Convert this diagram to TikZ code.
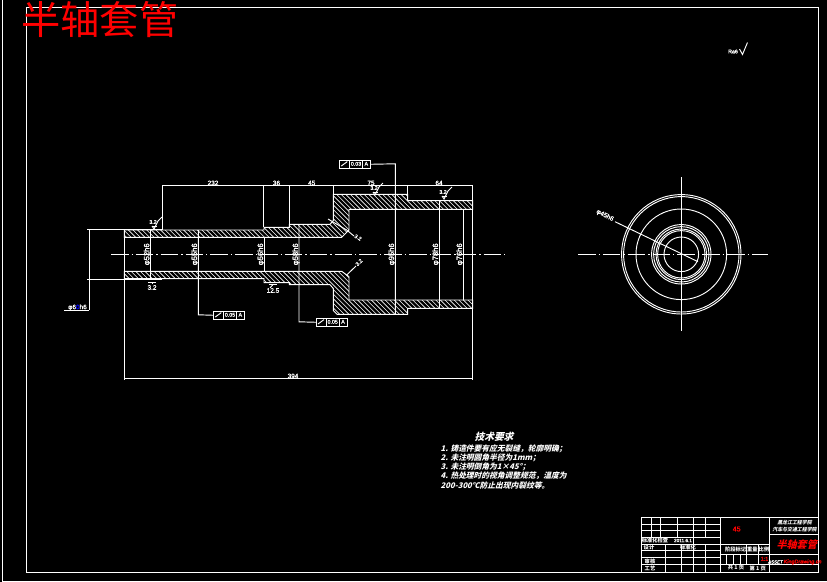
\documentclass[tikz,border=0pt]{standalone}
\usepackage{fontspec}
\usepackage{amsmath}
\newfontfamily\cjk{Noto Sans CJK SC}
\newfontfamily\cjkslant[FakeSlant=0.25]{Noto Sans CJK SC}
\newfontfamily\dimfont[FakeBold=1.5]{Liberation Sans}
\begin{document}
\begin{tikzpicture}[x=0.03cm,y=-0.03cm,>=latex,
  line/.style={white,line width=0.8pt},
  hatchline/.style={white,line width=0.5pt},
  axisline/.style={white,line width=0.8pt,dash pattern=on 15pt off 2.5pt on 1.2pt off 2.5pt},
  dimtext/.style={white,inner sep=0pt,font=\dimfont\fontsize{5.5}{5.5}\selectfont},
  diamtext/.style={white,inner sep=0pt,rotate=90,font=\dimfont\fontsize{6.5}{6.5}\selectfont},
  smalltext/.style={white,inner sep=0pt,font=\dimfont\fontsize{4.5}{4.5}\selectfont},
  cjktext/.style={white,inner sep=0pt,font=\cjk\bfseries\fontsize{4.5}{4.5}\selectfont},
  schooltext/.style={white,inner sep=0pt,font=\cjkslant\bfseries\fontsize{4.2}{4.2}\selectfont},
  reqtext/.style={white,inner sep=0pt,anchor=west,font=\cjkslant\bfseries\fontsize{6.6}{6.6}\selectfont},
  ]

  \def\tolbox#1#2#3#4#5{
    \node[draw=white,line width=0.8pt,minimum width=30.5*0.03cm,minimum height=7.6*0.03cm,inner sep=0pt,anchor=north west] (#1) at (#2,#3) {};
    \draw[line] (#2+10,#3) -- (#2+10,#3+7.6);
    \draw[line] (#2+23.5,#3) -- (#2+23.5,#3+7.6);
    \draw[line] (#2+2,#3+6) -- (#2+8,#3+1.6);
    \node[smalltext] (#1v) at (#2+16.7,#3+3.8) {#4};
    \node[smalltext] (#1a) at (#2+27,#3+3.8) {#5};
  }
  \def\roughmark#1#2#3#4{
    \begin{scope}[shift={(#2,#3)}]
      \draw[line] (-3,2) -- (-1,5) -- (3,-3) -- (7,-7);
      \draw[line] (-3,2) -- (1.5,2);
      \node[smalltext] (#1) at (-2,-2) {#4};
    \end{scope}
  }

  \fill[black] (0,0) rectangle (827,582);
  \useasboundingbox (0,0) rectangle (827,582);

  % frames
  \draw[line] (2,0) -- (2,581) -- (827,581);
  \draw[line] (26,7) rectangle (818.5,572);

  % section hatch
  \def\uppersec{(124.3,230) -- (264,230) -- (264,227.3) -- (289.3,227.3) -- (289.3,224.3) -- (330,224.3)
    -- (333.3,220.5) -- (333.3,194.3) -- (407.7,194.3) -- (407.7,200.7) -- (472.7,200.7) -- (472.7,209.3)
    -- (349,209.3) -- (349,230) -- (341.7,237.3) -- (124.3,237.3) -- cycle}
  \def\lowersec{(124.3,278.7) -- (264,278.7) -- (264,282.7) -- (289.3,282.7) -- (289.3,284.7) -- (330,284.7)
    -- (333.3,288.5) -- (333.3,310.5) -- (337,314.3) -- (407.7,314.3) -- (407.7,308.3) -- (472.7,308.3) -- (472.7,300)
    -- (349,300) -- (349,276.7) -- (341.7,271.3) -- (124.3,271.3) -- cycle}
  \begin{scope}
    \clip \uppersec;
    \foreach \x in {0,1,...,85}
    {
      \draw[hatchline] (120+\x*4.6,240) -- +(-50,-50);
    }
  \end{scope}
  \begin{scope}
    \clip \lowersec;
    \foreach \x in {0,1,...,85}
    {
      \draw[hatchline] (120+\x*4.6,320) -- +(-50,-50);
    }
  \end{scope}
  \draw[line] \uppersec;
  \draw[line] \lowersec;

  % axes
  \draw[axisline] (111,254.3) -- (508,254.3);
  \draw[axisline] (578,254.3) -- (768,254.3);
  \draw[line] (681.3,177) -- (681.3,331);

  % extension lines
  \draw[line] (162.3,185.3) -- (472.7,185.3);
  \foreach \x/\y in {162.3/230,263.6/227.3,289.3/224.3,333.3/194.3,407.7/194.3}
  {
    \draw[line] (\x,185.3) -- (\x,\y);
  }
  \draw[line] (472.7,185.3) -- (472.7,380);
  \draw[line] (124.3,230) -- (124.3,380);
  \draw[line] (124.3,378.3) -- (472.7,378.3);
  \draw[line] (87,229.3) -- (162.3,229.3);
  \draw[line] (87,279.3) -- (162.3,279.3);
  \draw[line] (89.3,229.3) -- (89.3,310);
  \draw[line] (64,310) -- (89.3,310);
  \draw[line] (150.3,230) -- (150.3,278.7);
  \draw[line] (264,237.3) -- (264,271.3);
  \draw[line] (439.3,200.7) -- (439.3,308.3);
  \draw[line] (463.7,209.3) -- (463.7,300);

  % length dimensions
  \node[dimtext] (d1) at (213,183) {232};
  \node[dimtext] (d2) at (276.5,183) {36};
  \node[dimtext] (d3) at (311.7,183) {45};
  \node[dimtext] (d4) at (371,183) {75};
  \node[dimtext] (d5) at (439,183) {64};
  \node[dimtext] (d6) at (293,376) {394};
  \node[dimtext] (d7) at (77.5,307.5) {φ6\textcolor{blue}{0}h6};

  % diameters
  \node[diamtext] (p1) at (147.3,254.3) {φ52h6};
  \node[diamtext] (p2) at (195,254.3) {φ55h6};
  \node[diamtext] (p3) at (261,254.3) {φ56h6};
  \node[diamtext] (p4) at (296,254.3) {φ58h6};
  \node[diamtext] (p5) at (392,254.3) {φ95h6};
  \node[diamtext] (p6) at (436,254.3) {φ78h6};
  \node[diamtext] (p7) at (460,254.3) {φ76h6};

  % runout boxes
  \tolbox{tola}{213.3}{311}{0.05}{A}
  \tolbox{tolb}{316}{318}{0.05}{A}
  \tolbox{tolc}{339.3}{160}{0.03}{A}
  \draw[line] (198.3,230) -- (198.3,314.8) -- (tola.west);
  \draw[line] (299,224.3) -- (299,321.8) -- (tolb.west);
  \draw[line] (395.3,314.3) -- (395.3,163.8) -- (tolc.east);

  % surface marks
  \roughmark{ra1}{155}{224}{3.2}
  \roughmark{ra2}{376}{190}{3.2}
  \roughmark{ra3}{445}{194}{3.2}
  \draw[line] (148,282) -- (156,282);
  \draw[line] (152,282) -- (152,284);
  \node[dimtext] (ra4) at (152,287.5) {3.2};
  \draw[line] (269,284.5) -- (277,284.5);
  \draw[line] (273,284.5) -- (270,288);
  \node[dimtext] (ra5) at (273,290.5) {12.5};
  \draw[line] (328,219) -- (346.7,230) -- (354,236);
  \node[smalltext,rotate=-30] (ra6) at (358,237.5) {3.2};
  \draw[line] (346.7,275) -- (356,266);
  \node[smalltext,rotate=45] (ra7) at (359,262.5) {3.2};

  % end view
  \foreach \r in {59.7,57.7,45.3,29.7,27.7,25.3,23.7,17.3}
  {
    \draw[line] (681.3,254.3) circle [radius=\r];
  }
  \draw[line] (615,221.7) -- (698,261.7);
  \node[dimtext,rotate=-27] (ev) at (605,215.5) {φ45h6};

  % roughness note
  \node[smalltext] (rn) at (733,51.5) {Ra6};
  \draw[line] (739.5,49) -- (742.5,54.5) -- (747.5,42.5);

  % requirements
  \node[white,inner sep=0pt,font=\cjkslant\bfseries\fontsize{8.3}{8.3}\selectfont] (reqh) at (494,436.7) {技术要求};
  \node[reqtext] (req1) at (440.5,448.5) {1. 铸造件要有应无裂缝，轮廓明确；};
  \node[reqtext] (req2) at (440.5,457.5) {2. 未注明圆角半径为1mm；};
  \node[reqtext] (req3) at (440.5,467) {3. 未注明倒角为1×45°；};
  \node[reqtext] (req4) at (440.5,476) {4. 热处理时的视角调整规范，温度为};
  \node[reqtext] (req5) at (440.5,485.5) {200-300℃防止出现内裂纹等。};

  % title block
  \draw[line] (641.7,517.7) rectangle (818.5,572);
  \foreach \y in {524,530.7,537.3,544,550.7,557.3,564}
  {
    \draw[line] (641.7,\y) -- (720.7,\y);
  }
  \foreach \x in {651.7,660,677.3,693.3,705}
  {
    \draw[line] (\x,517.7) -- (\x,537.3);
  }
  \draw[line] (693.3,537.3) -- (693.3,544);
  \foreach \x in {665.7,681.7,693.3,705}
  {
    \draw[line] (\x,544) -- (\x,572);
  }
  \draw[line] (720.7,517.7) -- (720.7,572);
  \draw[line] (769.3,517.7) -- (769.3,572);
  \draw[line] (720.7,544.3) -- (769.3,544.3);
  \draw[line] (769.3,534.3) -- (818.5,534.3);
  \draw[line] (720.7,554.3) -- (818.5,554.3);
  \draw[line] (720.7,564) -- (818.5,564);
  \foreach \x in {746.7,758}
  {
    \draw[line] (\x,544.3) -- (\x,564);
  }
  \foreach \x in {726.3,733,740}
  {
    \draw[line] (\x,554.3) -- (\x,564);
  }
  \node[schooltext] (t1) at (794.5,522.3) {黑龙江工程学院};
  \node[schooltext] (t2) at (794.5,530) {汽车与交通工程学院};
  \node[red,inner sep=0pt,font=\cjkslant\bfseries\fontsize{8.6}{8.6}\selectfont] (t3) at (796.7,544.3) {半轴套管};
  \node[red,inner sep=0pt,font=\dimfont\fontsize{6}{6}\selectfont] (t4) at (736.7,529) {45};
  \node[cjktext] (t5) at (735.7,549.3) {阶段标记};
  \node[cjktext] (t6) at (752.3,549.3) {重量};
  \node[cjktext] (t7) at (764,549.3) {比例};
  \node[red,inner sep=0pt,font=\dimfont\fontsize{4.5}{4.5}\selectfont] (t8) at (764.5,558.8) {1:1};
  \node[cjktext] (t9) at (736,568) {共 1 页};
  \node[cjktext] (t10) at (757.7,568) {第 1 页};
  \node[cjktext] (t11) at (655,540.5) {标准化检查};
  \node[smalltext,font=\dimfont\fontsize{4}{4}\selectfont] (t12) at (683,540.5) {2011.6.1};
  \node[cjktext] (t13) at (649,547.5) {设计};
  \node[cjktext] (t14) at (688,547.5) {标准化};
  \node[cjktext] (t15) at (650,561) {审核};
  \node[cjktext] (t16) at (650,568) {工艺};
  \node[white,inner sep=0pt,anchor=east,font=\dimfont\itshape\fontsize{3.8}{3.8}\selectfont] (t17) at (783,562) {ASSET};
  \node[red,inner sep=0pt,anchor=west,font=\dimfont\itshape\fontsize{4.6}{4.6}\selectfont] (t18) at (783.5,562) {KingDrawing.cn};

  % big title
  \node[red,inner sep=0pt,font=\cjk\fontsize{33.5}{33.5}\selectfont] (title) at (100,20) {半轴套管};

\end{tikzpicture}
\end{document}
